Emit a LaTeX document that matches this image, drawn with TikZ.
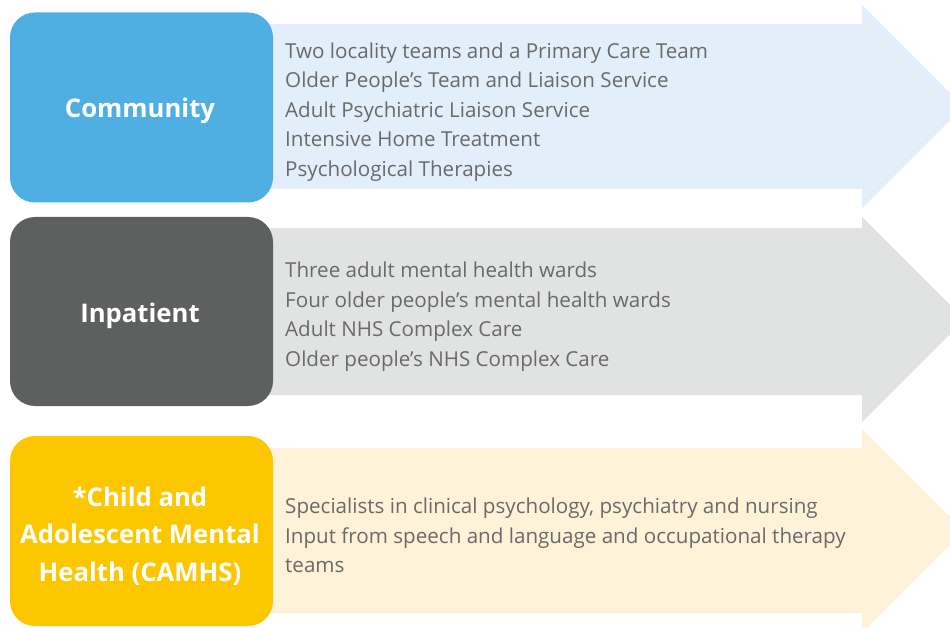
\documentclass[tikz,border=0pt]{standalone}
\usepackage{fontspec}
\setmainfont{Open Sans}
\definecolor{commblue}{HTML}{4FAEE2}
\definecolor{commlight}{HTML}{E2EEFA}
\definecolor{inpgray}{HTML}{5E5F5F}
\definecolor{inplight}{HTML}{E1E2E2}
\definecolor{camyellow}{HTML}{FDC700}
\definecolor{camlight}{HTML}{FEF3D9}
\definecolor{textgray}{HTML}{6A6A6A}
\begin{document}
\begin{tikzpicture}[x=1pt,y=-1pt,
  catbox/.style={rounded corners=25pt, minimum width=263pt, minimum height=190pt,
    inner sep=0pt},
  cattext/.style={inner sep=0pt, text=white, align=center,
    font=\fontsize{25.7}{37.5}\selectfont\bfseries},
  itemtext/.style={anchor=base west, inner sep=0pt, text=textgray,
    font=\fontsize{20.6}{24}\selectfont}]
\clip (0,0) rectangle (950,628);
\fill[white] (0,0) rectangle (950,628);
% arrows
\fill[commlight] (265,24) -- (862,24) -- (862,5) -- (963.5,106.5) -- (862,208) -- (862,189) -- (265,189) -- cycle;
\fill[inplight] (265,228) -- (862,228) -- (862,217) -- (964.5,319.5) -- (862,422) -- (862,395) -- (265,395) -- cycle;
\fill[camlight] (265,448) -- (862,448) -- (862,429) -- (964,531) -- (862,633) -- (862,613) -- (265,613) -- cycle;
% category boxes
\node[catbox, fill=commblue] (comm) at (141.5,107.5) {};
\node[catbox, fill=inpgray, minimum height=189pt] (inp) at (141.5,311.5) {};
\node[catbox, fill=camyellow] (cam) at (141.5,531) {};
\node[cattext] (commt) at (140,111) {Community};
\node[cattext] (inpt) at (140,316) {Inpatient};
\node[cattext] (camt) at (140,536) {*Child and\\Adolescent Mental\\Health (CAMHS)};
% items
\node[itemtext] (c1) at (285,58.5) {Two locality teams and a Primary Care Team};
\node[itemtext] (c2) at (285,88) {Older People’s Team and Liaison Service};
\node[itemtext] (c3) at (285,117.5) {Adult Psychiatric Liaison Service};
\node[itemtext] (c4) at (285,147) {Intensive Home Treatment};
\node[itemtext] (c5) at (285,176.5) {Psychological Therapies};
\node[itemtext] (i1) at (285,277.5) {Three adult mental health wards};
\node[itemtext] (i2) at (285,307) {Four older people’s mental health wards};
\node[itemtext] (i3) at (285,336.5) {Adult NHS Complex Care};
\node[itemtext] (i4) at (285,366) {Older people’s NHS Complex Care};
\node[itemtext] (h1) at (285,513.5) {Specialists in clinical psychology, psychiatry and nursing};
\node[itemtext] (h2) at (285,543) {Input from speech and language and occupational therapy};
\node[itemtext] (h3) at (285,572.5) {teams};
\end{tikzpicture}
\end{document}
